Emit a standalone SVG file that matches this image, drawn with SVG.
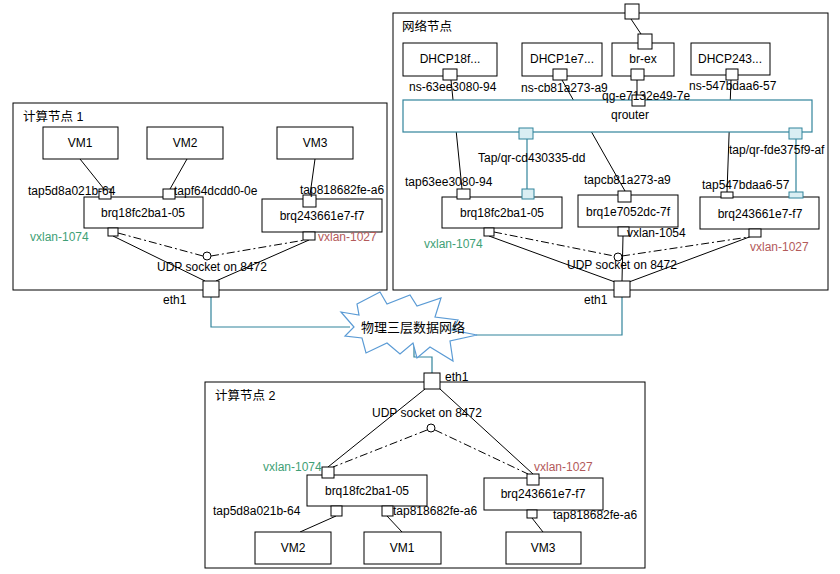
<svg xmlns="http://www.w3.org/2000/svg" width="840" height="574" viewBox="0 0 840 574">
<style>
text{font-family:"Liberation Sans",Arial,"Noto Sans CJK SC",sans-serif;font-size:12px;fill:#000}
.cn{font-size:12.5px}
.c{text-anchor:middle}
.box{fill:#fff;stroke:#000;stroke-width:1}
.port{fill:#fff;stroke:#000;stroke-width:1}
.tport{fill:#DAEEF3;stroke:#31849B;stroke-width:1}
.frame{fill:#fff;stroke:#000;stroke-width:1}
.ln{fill:none;stroke:#000;stroke-width:1}
.dd{fill:none;stroke:#000;stroke-width:1;stroke-dasharray:8 3 2 3}
.tl{fill:none;stroke:#31849B;stroke-width:1.2}
.g{fill:#3F9F76}
.r{fill:#B35A5A}
</style>
<rect width="840" height="574" fill="#fff"/>

<!-- frames -->
<g id="compute1-frame"><rect class="frame" x="13" y="103" width="374" height="187"/><text class="cn" x="23" y="121">计算节点 1</text></g>
<g id="network-frame"><rect class="frame" x="393" y="13" width="435" height="277"/><text class="cn" x="402" y="31">网络节点</text></g>
<g id="compute2-frame"><rect class="frame" x="205" y="382" width="440" height="186"/><text class="cn" x="215" y="400">计算节点 2</text></g>

<!-- connectors -->
<g id="connectors">
  <!-- compute 1 -->
  <line class="ln" x1="80" y1="159" x2="104" y2="189"/>
  <line class="ln" x1="187" y1="159" x2="170" y2="189"/>
  <line class="ln" x1="315" y1="159" x2="310" y2="195"/>
  <line class="ln" x1="113" y1="236" x2="205" y2="281"/>
  <line class="ln" x1="309" y1="240" x2="216" y2="281"/>
  <line class="dd" x1="118" y1="233" x2="203" y2="256"/>
  <line class="dd" x1="211" y1="256" x2="305" y2="240"/>
  <!-- network node -->
  <line class="ln" x1="631" y1="19" x2="641" y2="34"/>
  <line class="ln" x1="637" y1="80" x2="637" y2="95"/>
  <line class="ln" x1="451" y1="80" x2="462" y2="189"/>
  <line class="ln" x1="562" y1="80" x2="625" y2="191"/>
  <line class="ln" x1="731" y1="80" x2="727" y2="192"/>
  <line class="tl" x1="527" y1="139" x2="527" y2="189"/>
  <line class="tl" x1="796" y1="139" x2="796" y2="192"/>
  <line class="ln" x1="489" y1="236" x2="615" y2="282"/>
  <line class="ln" x1="623" y1="236" x2="622" y2="281"/>
  <line class="ln" x1="752" y1="236" x2="629" y2="282"/>
  <line class="dd" x1="494" y1="232" x2="614" y2="256"/>
  <line class="dd" x1="622" y1="256" x2="749" y2="237"/>
  <!-- physical network -->
  <polyline class="tl" points="211,297 211,327 350,327"/>
  <polyline class="tl" points="476,335 622,335 622,297"/>
  <polyline class="tl" points="414,343 414,357 432,357 432,373"/>
  <!-- compute 2 -->
  <line class="ln" x1="425" y1="389" x2="328" y2="467"/>
  <line class="ln" x1="440" y1="389" x2="533" y2="474"/>
  <line class="dd" x1="427" y1="430" x2="333" y2="467"/>
  <line class="dd" x1="435" y1="430" x2="528" y2="474"/>
  <line class="ln" x1="336" y1="516" x2="300" y2="532"/>
  <line class="ln" x1="387" y1="516" x2="402" y2="532"/>
  <line class="ln" x1="532" y1="518" x2="543" y2="532"/>
</g>

<!-- compute node 1 -->
<g id="c1-vm1"><rect class="box" x="43" y="127" width="75" height="32"/><text class="c" x="80" y="147">VM1</text></g>
<g id="c1-vm2"><rect class="box" x="147" y="127" width="76" height="32"/><text class="c" x="185" y="147">VM2</text></g>
<g id="c1-vm3"><rect class="box" x="277" y="127" width="76" height="32"/><text class="c" x="315" y="147">VM3</text></g>
<g id="c1-brq18"><rect class="box" x="84" y="197" width="119" height="31"/><text class="c" x="143" y="217">brq18fc2ba1-05</text>
  <rect class="port" x="99" y="189" width="12" height="10"/><rect class="port" x="163" y="189" width="12" height="10"/><rect class="port" x="108" y="228" width="10" height="8"/></g>
<g id="c1-brq24"><rect class="box" x="262" y="199" width="120" height="33"/><text class="c" x="322" y="220">brq243661e7-f7</text>
  <rect class="port" x="303" y="195" width="13" height="12"/><rect class="port" x="303" y="232" width="12" height="8"/></g>
<g id="c1-udp"><circle cx="207" cy="256" r="4" fill="#fff" stroke="#000"/><text x="157" y="271">UDP socket on 8472</text></g>
<g id="c1-eth1"><rect class="port" x="203" y="281" width="16" height="16"/><text x="163" y="304">eth1</text></g>
<g id="c1-labels">
  <text x="28" y="195">tap5d8a021b-64</text>
  <text x="174" y="195">tapf64dcdd0-0e</text>
  <text x="300" y="194">tap818682fe-a6</text>
  <text class="g" x="30" y="241">vxlan-1074</text>
  <text class="r" x="318" y="241">vxlan-1027</text>
</g>

<!-- network node -->
<g id="n-top"><rect class="port" x="625" y="4" width="14" height="15"/></g>
<g id="n-brex"><rect class="box" x="612" y="43" width="62" height="33"/><text class="c" x="643" y="63">br-ex</text>
  <rect class="port" x="638" y="34" width="14" height="15"/><rect class="port" x="631" y="69" width="13" height="11"/></g>
<g id="n-dhcp18"><rect class="box" x="403" y="43" width="94" height="33"/><text class="c" x="450" y="63">DHCP18f...</text>
  <rect class="port" x="443" y="69" width="14" height="11"/><text x="409" y="91">ns-63ee3080-94</text></g>
<g id="n-dhcp1e"><rect class="box" x="522" y="43" width="80" height="33"/><text class="c" x="562" y="63">DHCP1e7...</text>
  <rect class="port" x="553" y="69" width="14" height="11"/><text x="521" y="92">ns-cb81a273-a9</text></g>
<g id="n-dhcp24"><rect class="box" x="691" y="43" width="79" height="32"/><text class="c" x="730" y="63">DHCP243...</text>
  <rect class="port" x="726" y="69" width="12" height="11"/><text x="689" y="90">ns-547bdaa6-57</text></g>
<g id="n-qrouter"><rect x="403" y="100" width="409" height="32" fill="#fff" stroke="#31849B" stroke-width="1.2"/><text class="c" x="630" y="119">qrouter</text>
  <rect class="port" x="632" y="95" width="13" height="11"/><text x="602" y="100">qg-e7132e49-7e</text>
  <rect class="tport" x="519" y="128" width="14" height="11"/><rect class="tport" x="789" y="128" width="13" height="11"/></g>
<g id="n-brq18"><rect class="box" x="442" y="197" width="120" height="31"/><text class="c" x="502" y="217">brq18fc2ba1-05</text>
  <rect class="port" x="457" y="189" width="13" height="10"/><rect class="tport" x="522" y="189" width="12" height="10"/><rect class="port" x="484" y="228" width="10" height="8"/></g>
<g id="n-brq1e"><rect class="box" x="578" y="195" width="100" height="32"/><text class="c" x="628" y="216">brq1e7052dc-7f</text>
  <rect class="port" x="618" y="191" width="13" height="11"/><rect class="port" x="618" y="227" width="11" height="9"/></g>
<g id="n-brq24"><rect class="box" x="700" y="197" width="119" height="32"/><text class="c" x="760" y="218">brq243661e7-f7</text>
  <rect class="port" x="721" y="192" width="12" height="6"/><rect class="tport" x="789" y="192" width="14" height="6"/><rect class="port" x="749" y="229" width="12" height="8"/></g>
<g id="n-udp"><circle cx="618" cy="257" r="4" fill="#fff" stroke="#000"/><text x="567" y="269">UDP socket on 8472</text></g>
<g id="n-eth1"><rect class="port" x="614" y="281" width="16" height="16"/><text x="584" y="304">eth1</text></g>
<g id="n-labels">
  <text x="478" y="162">Tap/qr-cd430335-dd</text>
  <text x="729" y="154">tap/qr-fde375f9-af</text>
  <text x="405" y="186">tap63ee3080-94</text>
  <text x="584" y="184">tapcb81a273-a9</text>
  <text x="702" y="189">tap547bdaa6-57</text>
  <text class="g" x="424" y="248">vxlan-1074</text>
  <text x="627" y="237">vxlan-1054</text>
  <text class="r" x="750" y="251">vxlan-1027</text>
</g>

<!-- physical network cloud -->
<g id="cloud">
  <polygon points="357,304 380,292 387,304 410,295 417,306 441,298 435,317 458,320 452,330 477,335 450,341 453,361 430,347 417,358 413,343 400,354 387,343 366,353 362,338 345,336 354,327 341,312 359,315" fill="#fff" stroke="#5B9BD5" stroke-width="1.2" stroke-linejoin="miter"/>
  <text x="361" y="332" style="font-size:13px">物理三层数据网络</text>
</g>

<!-- compute node 2 -->
<g id="c2-eth1"><rect class="port" x="424" y="373" width="16" height="16"/><text x="445" y="381">eth1</text></g>
<g id="c2-udp"><circle cx="431" cy="428" r="4" fill="#fff" stroke="#000"/><text x="372" y="417">UDP socket on 8472</text></g>
<g id="c2-brq18"><rect class="box" x="307" y="475" width="120" height="31"/><text class="c" x="367" y="495">brq18fc2ba1-05</text>
  <rect class="port" x="322" y="467" width="12" height="11"/><rect class="port" x="331" y="506" width="11" height="10"/><rect class="port" x="382" y="506" width="11" height="10"/></g>
<g id="c2-brq24"><rect class="box" x="484" y="478" width="119" height="32"/><text class="c" x="543" y="498">brq243661e7-f7</text>
  <rect class="port" x="527" y="474" width="12" height="11"/><rect class="port" x="527" y="510" width="10" height="8"/></g>
<g id="c2-vm2"><rect class="box" x="255" y="532" width="76" height="32"/><text class="c" x="293" y="552">VM2</text></g>
<g id="c2-vm1"><rect class="box" x="364" y="532" width="77" height="32"/><text class="c" x="402" y="552">VM1</text></g>
<g id="c2-vm3"><rect class="box" x="506" y="532" width="75" height="32"/><text class="c" x="543" y="552">VM3</text></g>
<g id="c2-labels">
  <text class="g" x="263" y="471">vxlan-1074</text>
  <text class="r" x="534" y="471">vxlan-1027</text>
  <text x="213" y="515">tap5d8a021b-64</text>
  <text x="393" y="515">tap818682fe-a6</text>
  <text x="553" y="519">tap818682fe-a6</text>
</g>
</svg>
